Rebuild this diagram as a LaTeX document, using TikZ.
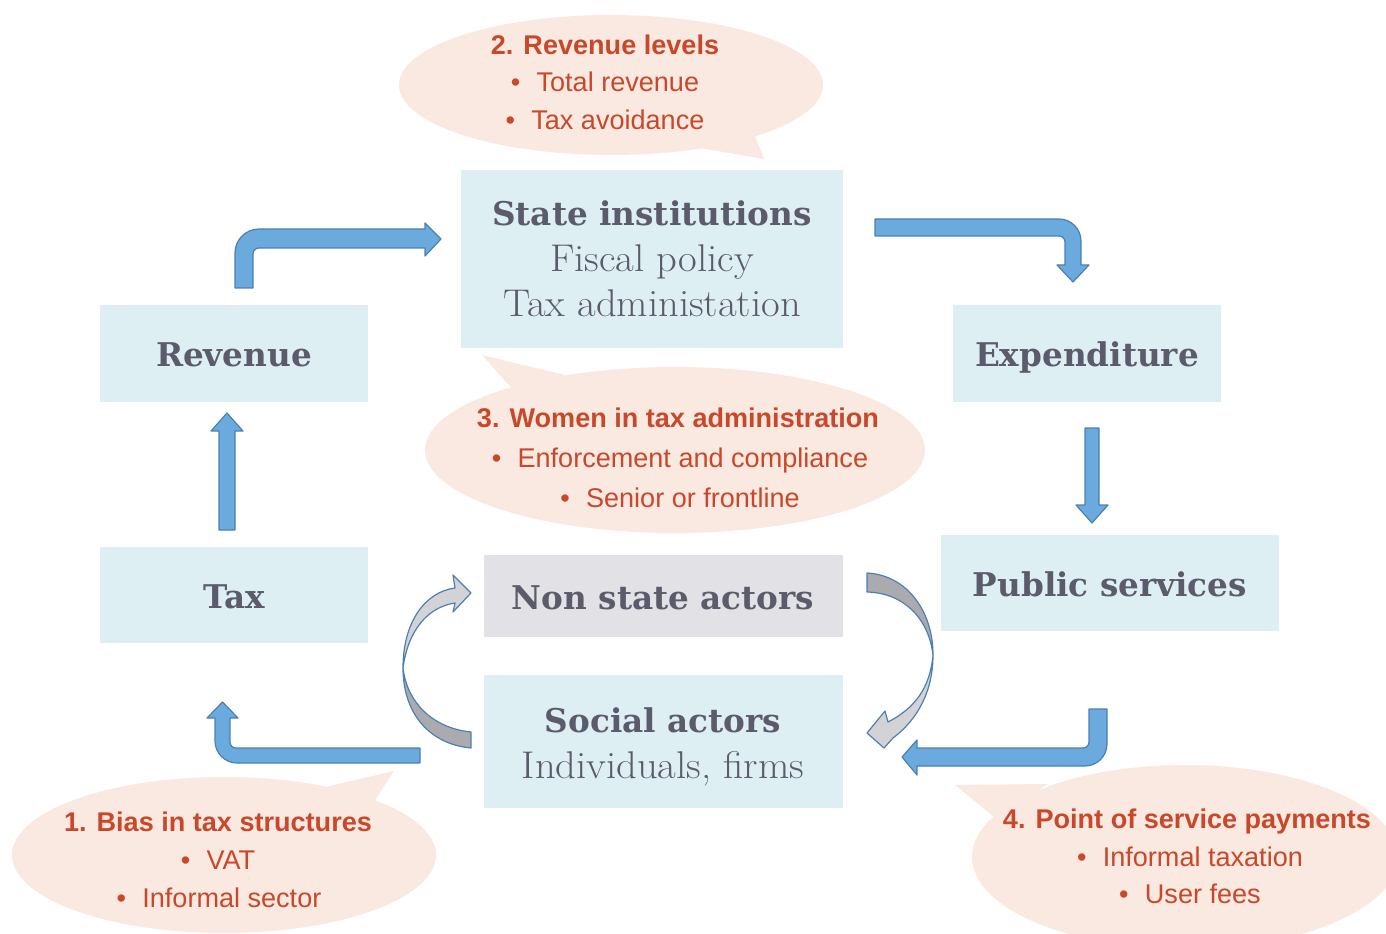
\documentclass[tikz,border=0pt]{standalone}
\usepackage{fontspec}
\setmainfont{Liberation Sans}
\newfontfamily\slabfont{DejaVu Serif}
\newfontfamily\lightfont[FakeStretch=1.05]{Latin Modern Roman}
\definecolor{boxfill}{HTML}{DDEFF2}
\definecolor{greyfill}{HTML}{E1E1E6}
\definecolor{bubfill}{HTML}{F9E9E1}
\definecolor{bubtext}{HTML}{C9482A}
\definecolor{boxtext}{HTML}{5B5B6B}
\definecolor{arrfill}{HTML}{6AAADC}
\definecolor{arrline}{HTML}{4C7FB3}
\definecolor{darkgrey}{HTML}{ABABAF}
\definecolor{lightgrey}{HTML}{D3D3D6}
\tikzset{
  boxnode/.style={fill=boxfill, draw=none, inner sep=0pt},
  headtext/.style={anchor=base, inner sep=0pt, text=boxtext, font=\slabfont\bfseries\fontsize{24.5}{28}\selectfont},
  lighttext/.style={anchor=base, inner sep=0pt, text=boxtext, font=\lightfont\fontsize{29}{32}\selectfont},
  bubtitle/.style={anchor=base, inner sep=0pt, text=bubtext, font=\bfseries\fontsize{20.3}{24}\selectfont},
  bubitem/.style={anchor=base, inner sep=0pt, text=bubtext, font=\fontsize{20.3}{24}\selectfont},
  bubshape/.style={fill=bubfill, draw=none},
  blockarrow/.style={fill=arrfill, draw=arrline, line width=0.9pt, line join=round},
  curvedark/.style={fill=darkgrey, draw=arrline, line width=0.9pt, line join=round},
  curvelight/.style={fill=lightgrey, draw=arrline, line width=0.9pt, line join=round},
}
\newcommand{\bul}{\textbullet\hspace{0.6em}}
\begin{document}
\begin{tikzpicture}[x=0.75pt,y=-0.75pt]
\useasboundingbox (0,0) rectangle (1386,934);
\clip (0,0) rectangle (1386,934);

% speech bubbles
\fill[bubshape] (611,85) ellipse [x radius=212, y radius=70];
\fill[bubshape] (700,148) -- (764,159) -- (752,128) -- cycle;
\fill[bubshape] (675,450) ellipse [x radius=250, y radius=83];
\fill[bubshape] (482,355) -- (565,375) -- (515,392) -- cycle;
\fill[bubshape] (224,855) ellipse [x radius=212, y radius=78];
\fill[bubshape] (394,771) -- (312,790) -- (370,808) -- cycle;
\fill[bubshape] (1185,857) ellipse [x radius=213, y radius=92];
\fill[bubshape] (955,785) -- (1048,784) -- (995,818) -- cycle;

% boxes
\node[boxnode, minimum width=382*0.75pt, minimum height=178*0.75pt] (state) at (652,259) {};
\node[boxnode, minimum width=268*0.75pt, minimum height=97*0.75pt] (revenue) at (234,353.5) {};
\node[boxnode, minimum width=268*0.75pt, minimum height=97*0.75pt] (expend) at (1087,353.5) {};
\node[boxnode, minimum width=268*0.75pt, minimum height=96*0.75pt] (tax) at (234,595) {};
\node[boxnode, minimum width=338*0.75pt, minimum height=96*0.75pt] (public) at (1110,583) {};
\node[boxnode, fill=greyfill, minimum width=359*0.75pt, minimum height=82*0.75pt] (nonstate) at (663.5,596) {};
\node[boxnode, minimum width=359*0.75pt, minimum height=133*0.75pt] (social) at (663.5,741.5) {};

% box texts
\node[headtext] (t-state) at (652,226) {State institutions};
\node[lighttext] (t-fiscal) at (652,272) {Fiscal policy};
\node[lighttext] (t-taxadm) at (652,317) {Tax administation};
\node[headtext] (t-revenue) at (234,367) {Revenue};
\node[headtext] (t-expend) at (1087,367) {Expenditure};
\node[headtext] (t-tax) at (234,608) {Tax};
\node[headtext] (t-public) at (1110,596) {Public services};
\node[headtext] (t-nonstate) at (663,609) {Non state actors};
\node[headtext] (t-social) at (663,732) {Social actors};
\node[lighttext] (t-indiv) at (663,778) {Individuals, firms};

% bubble texts
\node[bubtitle] (b2a) at (605,55) {2. Revenue levels};
\node[bubitem] (b2b) at (605,92) {\bul Total revenue};
\node[bubitem] (b2c) at (605,130) {\bul Tax avoidance};
\node[bubtitle] (b3a) at (678,427) {3. Women in tax administration};
\node[bubitem] (b3b) at (680,467) {\bul Enforcement and compliance};
\node[bubitem] (b3c) at (680,507) {\bul Senior or frontline};
\node[bubtitle] (b1a) at (218,831) {1. Bias in tax structures};
\node[bubitem] (b1b) at (218,869) {\bul VAT};
\node[bubitem] (b1c) at (219,907) {\bul Informal sector};
\node[bubtitle] (b4a) at (1187,828) {4. Point of service payments};
\node[bubitem] (b4b) at (1190,866) {\bul Informal taxation};
\node[bubitem] (b4c) at (1190,903) {\bul User fees};

% block arrows
% Revenue -> State institutions
\draw[blockarrow] (235,288) -- (235,253) .. controls (235,239.8) and (245.8,229) .. (259,229) -- (425,229) -- (425,223) -- (441,239) -- (425,256) -- (425,248) -- (259,248) .. controls (255.7,248) and (253,250.7) .. (253,254) -- (253,288) -- cycle;
% State institutions -> Expenditure
\draw[blockarrow] (875,219) -- (1059,219) .. controls (1071.1,219) and (1081,228.9) .. (1081,241) -- (1081,265) -- (1089,265) -- (1073,282) -- (1057,265) -- (1065,265) -- (1065,242) .. controls (1065,238.7) and (1062.3,236) .. (1059,236) -- (875,236) -- cycle;
% Expenditure -> Public services
\draw[blockarrow] (1085,428) -- (1099,428) -- (1099,505) -- (1108,505) -- (1092,523) -- (1076,505) -- (1085,505) -- cycle;
% Public services -> Social actors
\draw[blockarrow] (1089,709) -- (1107,709) -- (1107,744) .. controls (1107,756.1) and (1097.1,766) .. (1085,766) -- (917,766) -- (917,775) -- (902,757) -- (917,740) -- (917,748) -- (1083,748) .. controls (1086.3,748) and (1089,745.3) .. (1089,742) -- cycle;
% Social actors -> Tax
\draw[blockarrow] (420,748) -- (236,748) .. controls (232.7,748) and (230,745.3) .. (230,742) -- (230,718) -- (238,718) -- (222.5,702) -- (207,718) -- (215,718) -- (215,741) .. controls (215,753.1) and (224.9,763) .. (237,763) -- (420,763) -- cycle;
% Tax -> Revenue
\draw[blockarrow] (219,530) -- (235,530) -- (235,431) -- (243,431) -- (227,413) -- (211,431) -- (219,431) -- cycle;

% curved arrows
% Social actors -> Non state actors (left)
\draw[curvedark] (471,748) .. controls (428,744) and (403,712) .. (403,668) .. controls (407,702) and (432,728) .. (471,732) -- cycle;
\draw[curvelight] (403,668) .. controls (403,622) and (425,592) .. (455,588) -- (453,575) -- (471,593) -- (453,612) -- (455,603) .. controls (428,607) and (408,630) .. (403,668) -- cycle;
% Non state actors -> Social actors (right)
\draw[curvedark] (867,573) .. controls (906,575) and (933,610) .. (933,655) .. controls (929,620) and (905,593) .. (867,592) -- cycle;
\draw[curvelight] (933,655) .. controls (933,692) and (917,720) .. (893,738) -- (884,748) -- (867,733) -- (885,711) -- (888,722) .. controls (915,708) and (930,688) .. (933,655) -- cycle;
\end{tikzpicture}
\end{document}
